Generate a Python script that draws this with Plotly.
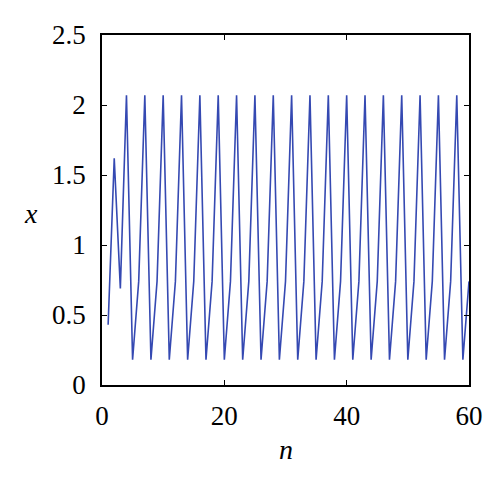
import plotly.graph_objects as go

n_values = list(range(1, 61))
x_values = [
    0.43, 1.62, 0.69,
    2.07, 0.18, 0.74, 2.07, 0.18, 0.74, 2.07, 0.18, 0.74, 2.07, 0.18, 0.74,
    2.07, 0.18, 0.74, 2.07, 0.18, 0.74, 2.07, 0.18, 0.74, 2.07, 0.18, 0.74,
    2.07, 0.18, 0.74, 2.07, 0.18, 0.74, 2.07, 0.18, 0.74, 2.07, 0.18, 0.74,
    2.07, 0.18, 0.74, 2.07, 0.18, 0.74, 2.07, 0.18, 0.74, 2.07, 0.18, 0.74,
    2.07, 0.18, 0.74, 2.07, 0.18, 0.74, 2.07, 0.18, 0.74,
]
x_ticks = [0, 20, 40, 60]
y_ticks = [0, 0.5, 1, 1.5, 2, 2.5]
y_tick_labels = ["0", "0.5", "1", "1.5", "2", "2.5"]

font_family = "Liberation Serif, Times New Roman, serif"

fig = go.Figure()
fig.add_trace(go.Scatter(
    x=n_values, y=x_values, mode="lines",
    line=dict(color="#3549b2", width=1.6),
    showlegend=False,
))

axis_common = dict(
    showline=True, linecolor="black", linewidth=1.5, mirror="ticks",
    ticks="inside", ticklen=5, tickwidth=1.2, tickcolor="black",
    showgrid=False, zeroline=False,
    tickfont=dict(family=font_family, size=27, color="black"),
)

fig.update_xaxes(range=[0, 60], tickvals=x_ticks, ticklabelstandoff=6, **axis_common)
fig.update_yaxes(range=[0, 2.5], tickvals=y_ticks, ticktext=y_tick_labels,
                 ticklabelstandoff=9, **axis_common)

fig.add_annotation(text="<i>x</i>", xref="paper", yref="paper", x=-0.193, y=0.49,
                   xanchor="center", yanchor="middle", showarrow=False,
                   font=dict(family=font_family, size=28, color="black"))
fig.add_annotation(text="<i>n</i>", xref="paper", yref="paper", x=0.5, y=-0.185,
                   xanchor="center", yanchor="middle", showarrow=False,
                   font=dict(family=font_family, size=28, color="black"))

fig.update_layout(
    width=492, height=470,
    margin=dict(l=94, r=31, t=24, b=93),
    plot_bgcolor="white", paper_bgcolor="white",
)

fig.write_html("out.html")
